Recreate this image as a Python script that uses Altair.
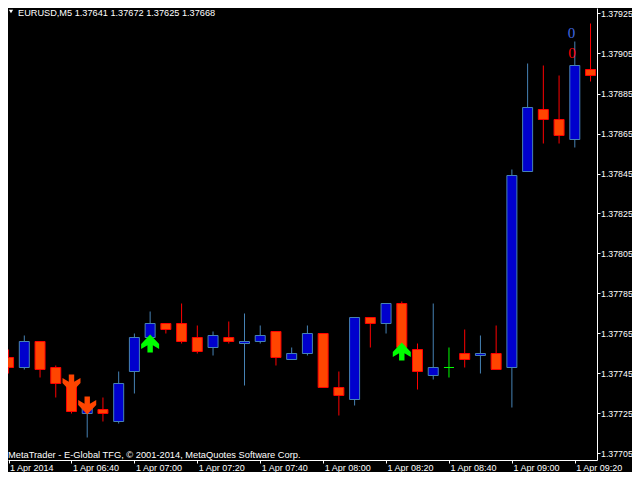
import altair as alt
import pandas as pd

# ---- data (EURUSD M5, 1 Apr 2014, 06:20 .. 09:25) ----
times = ["06:20", "06:25", "06:30", "06:35", "06:40", "06:45", "06:50", "06:55",
         "07:00", "07:05", "07:10", "07:15", "07:20", "07:25", "07:30", "07:35",
         "07:40", "07:45", "07:50", "07:55", "08:00", "08:05", "08:10", "08:15",
         "08:20", "08:25", "08:30", "08:35", "08:40", "08:45", "08:50", "08:55",
         "09:00", "09:05", "09:10", "09:15", "09:20", "09:25"]
opens = [1.37753, 1.37748, 1.37761, 1.37748, 1.37740, 1.37725, 1.37727, 1.37721,
         1.37746, 1.37763, 1.37770, 1.37770, 1.37763, 1.37758, 1.37763, 1.37760,
         1.37761, 1.37766, 1.37752, 1.37755, 1.37765, 1.37738, 1.37732, 1.37773,
         1.37770, 1.37780, 1.37757, 1.37744, 1.37748, 1.37755, 1.37754, 1.37755,
         1.37748, 1.37846, 1.37877, 1.37872, 1.37862, 1.37897]
highs = [1.37757, 1.37764, 1.37761, 1.37749, 1.37743, 1.37731, 1.37733, 1.37746,
         1.37765, 1.37776, 1.37770, 1.37780, 1.37769, 1.37766, 1.37771, 1.37775,
         1.37769, 1.37766, 1.37758, 1.37769, 1.37765, 1.37746, 1.37773, 1.37773,
         1.37780, 1.37781, 1.37760, 1.37780, 1.37758, 1.37767, 1.37764, 1.37769,
         1.37847, 1.37900, 1.37899, 1.37894, 1.37911, 1.37920]
lows = [1.37745, 1.37747, 1.37743, 1.37733, 1.37725, 1.37713, 1.37721, 1.37720,
        1.37735, 1.37761, 1.37765, 1.37760, 1.37755, 1.37754, 1.37760, 1.37739,
        1.37760, 1.37749, 1.37752, 1.37754, 1.37738, 1.37724, 1.37729, 1.37758,
        1.37765, 1.37757, 1.37737, 1.37742, 1.37743, 1.37748, 1.37745, 1.37747,
        1.37728, 1.37846, 1.37860, 1.37860, 1.37858, 1.37891]
closes = [1.37748, 1.37761, 1.37747, 1.37740, 1.37726, 1.37728, 1.37725, 1.37740,
          1.37763, 1.37770, 1.37767, 1.37761, 1.37756, 1.37764, 1.37761, 1.37761,
          1.37764, 1.37753, 1.37755, 1.37765, 1.37738, 1.37734, 1.37773, 1.37770,
          1.37780, 1.37758, 1.37746, 1.37748, 1.37748, 1.37752, 1.37755, 1.37747,
          1.37844, 1.37878, 1.37872, 1.37864, 1.37899, 1.37894]

time_tick_idx = [0, 4, 8, 12, 16, 20, 24, 28, 32, 36]
time_tick_labels = ["1 Apr 2014", "1 Apr 06:40", "1 Apr 07:00", "1 Apr 07:20",
                    "1 Apr 07:40", "1 Apr 08:00", "1 Apr 08:20", "1 Apr 08:40",
                    "1 Apr 09:00", "1 Apr 09:20"]
price_ticks = [1.37705, 1.37725, 1.37745, 1.37765, 1.37785, 1.37805,
               1.37825, 1.37845, 1.37865, 1.37885, 1.37905, 1.37925]

signal_idx = [4, 5, 9, 25]
signal_price = [1.37740, 1.37729, 1.37760, 1.37756]
signal_dir = ["down", "down", "up", "up"]

header = "EURUSD,M5  1.37641 1.37672 1.37625 1.37668"
copyright_text = "MetaTrader - E-Global TFG, \u00a9 2001-2014, MetaQuotes Software Corp."
counter_labels = ["0", "0"]

# ---- tables ----
candles = pd.DataFrame({"idx": list(range(len(times))), "time": times,
                        "o": opens, "h": highs, "l": lows, "c": closes})
candles["dir"] = ["bull" if c > o else ("bear" if c < o else "doji")
                  for o, c in zip(opens, closes)]
signals = pd.DataFrame({"idx": signal_idx, "p": signal_price, "dir": signal_dir})

FONT = "Liberation Sans"
W, H = 589, 452

label_arr = "[" + ",".join("'" + s + "'" for s in time_tick_labels) + "]"
x_scale = alt.Scale(domain=[0.28125, 0.28125 + W / 16.0], nice=False, zero=False)
x_axis = alt.Axis(values=time_tick_idx, labelExpr=label_arr + "[round(datum.value/4)]",
                  title=None, grid=False, orient="bottom", labelAlign="left",
                  labelOffset=1, labelPadding=0, tickSize=3, labelBaseline="top",
                  labelFontSize=9, labelOverlap=False, labelBound=False,
                  labelFlush=False)
y_scale = alt.Scale(domain=[1.3770175, 1.3792775], nice=False, zero=False)
y_axis = alt.Axis(values=price_ticks, format=".5f", title=None, grid=False,
                  orient="right", tickSize=3, labelPadding=0.5, labelFontSize=8.8,
                  labelOverlap=False, labelFlush=False, labelBound=False)

dir_dom = ["bull", "bear", "doji"]
wick_scale = alt.Scale(domain=dir_dom, range=["#4682B4", "#FF0000", "#00FF00"])
fill_scale = alt.Scale(domain=dir_dom, range=["#0000CD", "#FF4500", "#00FF00"])

X = alt.X("idx:Q", scale=x_scale, axis=x_axis)

wicks = alt.Chart(candles).mark_rule(strokeWidth=1, clip=True).encode(
    x=X,
    y=alt.Y("l:Q", scale=y_scale, axis=y_axis),
    y2="h:Q",
    color=alt.Color("dir:N", scale=wick_scale, legend=None),
)

bodies = alt.Chart(candles).mark_bar(size=10, strokeWidth=1, clip=True).encode(
    x=X,
    y=alt.Y("o:Q", scale=y_scale, axis=y_axis),
    y2="c:Q",
    fill=alt.Fill("dir:N", scale=fill_scale, legend=None),
    stroke=alt.Stroke("dir:N", scale=wick_scale, legend=None),
)

down_path = "M-0.3,-1L0.3,-1L0.3,-0.2L1,-0.6L1,-0.05L0,1L-1,-0.05L-1,-0.6L-0.3,-0.2Z"
up_path = "M-0.3,1L0.3,1L0.3,0.2L1,0.6L1,0.05L0,-1L-1,0.05L-1,0.6L-0.3,0.2Z"

arrows = alt.Chart(signals).mark_point(filled=True, size=324, opacity=1, strokeWidth=0).encode(
    x=X,
    y=alt.Y("p:Q", scale=y_scale, axis=y_axis),
    shape=alt.Shape("dir:N", scale=alt.Scale(domain=["down", "up"],
                                              range=[down_path, up_path]), legend=None),
    color=alt.Color("dir:N", scale=alt.Scale(domain=["down", "up"],
                                              range=["#FF4500", "#00FF00"]), legend=None),
)

head = alt.Chart(pd.DataFrame({"t": [header]})).mark_text(
    align="left", baseline="alphabetic", font=FONT, fontSize=9.2, color="white"
).encode(text="t:N", x=alt.value(10), y=alt.value(7.5))

tri = alt.Chart(pd.DataFrame({"t": ["v"]})).mark_point(
    shape="triangle-down", filled=True, size=18, color="white", opacity=1
).encode(x=alt.value(3), y=alt.value(3.5))

copy = alt.Chart(pd.DataFrame({"t": [copyright_text]})).mark_text(
    align="left", baseline="alphabetic", font=FONT, fontSize=9.3, color="white"
).encode(text="t:N", x=alt.value(0), y=alt.value(450))

zero_blue = alt.Chart(pd.DataFrame({"t": [counter_labels[0]]})).mark_text(
    align="center", baseline="alphabetic", font="Liberation Serif", fontSize=15,
    color="#4169E1"
).encode(text="t:N", x=alt.value(563.5), y=alt.value(30))

zero_red = alt.Chart(pd.DataFrame({"t": [counter_labels[1]]})).mark_text(
    align="center", baseline="alphabetic", font="Liberation Serif", fontSize=15,
    color="#FF0000"
).encode(text="t:N", x=alt.value(564), y=alt.value(50))

chart = alt.layer(wicks, bodies, arrows, head, tri, copy, zero_blue, zero_red).resolve_scale(
    color="independent"
).properties(
    width=W, height=H,
    autosize=alt.AutoSizeParams(type="none"),
    padding={"left": 0, "top": 0, "right": 35, "bottom": 12},
    background="black",
).configure_view(stroke=None).configure_axis(
    labelFont=FONT, labelFontSize=9.3, labelColor="white",
    domainColor="white", tickColor="white", domainWidth=1, tickWidth=1,
)

chart.save("out.html", embed_options={"renderer": "svg", "actions": False})
